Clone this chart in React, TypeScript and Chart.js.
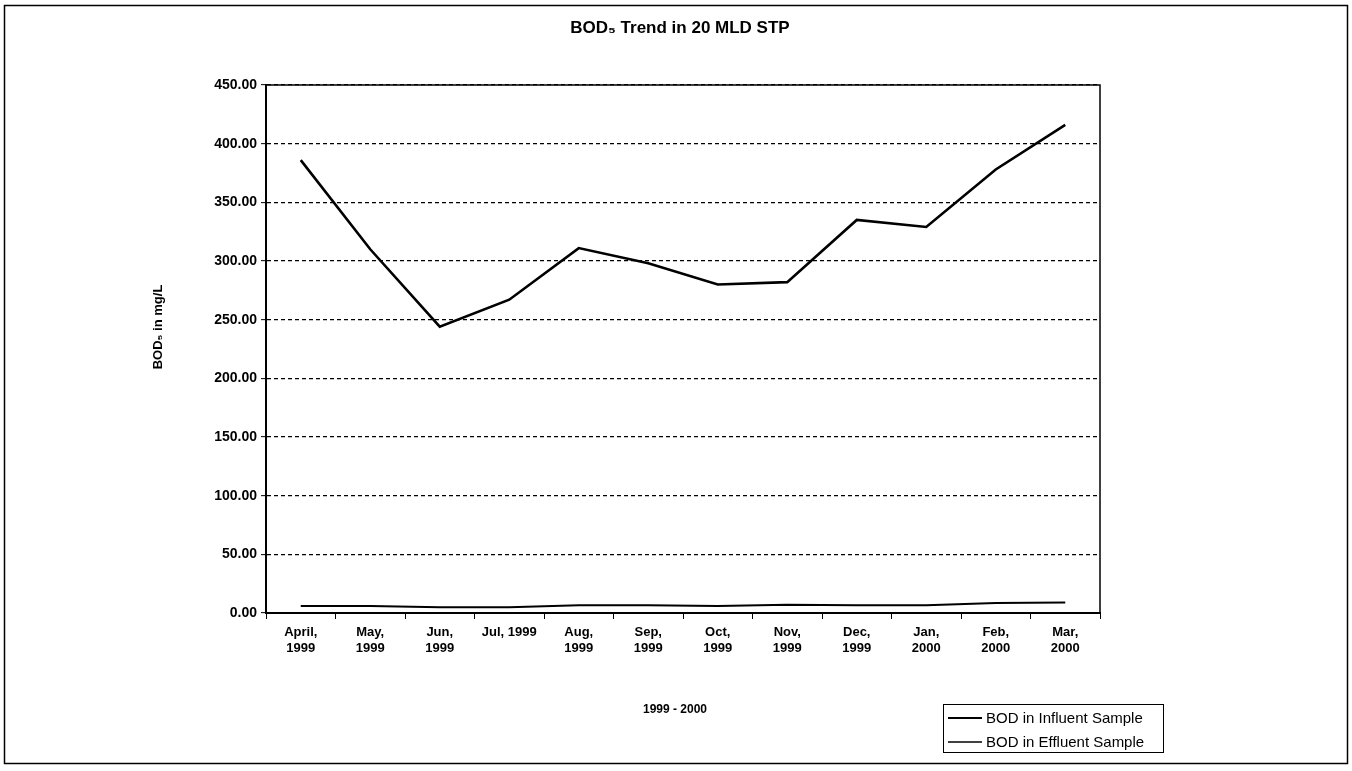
import React, { useEffect, useRef } from "react";
import { Chart, registerables } from "chart.js";

Chart.register(...registerables);

const categories: (string | string[])[] = [
  ["April,", "1999"],
  ["May,", "1999"],
  ["Jun,", "1999"],
  "Jul, 1999",
  ["Aug,", "1999"],
  ["Sep,", "1999"],
  ["Oct,", "1999"],
  ["Nov,", "1999"],
  ["Dec,", "1999"],
  ["Jan,", "2000"],
  ["Feb,", "2000"],
  ["Mar,", "2000"],
];
const influent = [386, 310, 244, 267, 311, 298, 280, 282, 335, 329, 378, 416];
const effluent = [6, 6, 5, 5, 6.5, 6.5, 6, 7, 6.5, 6.5, 8.5, 9];
const seriesNames = ["BOD in Influent Sample", "BOD in Effluent Sample"];
const titleText = "BOD\u2085 Trend in 20 MLD STP";
const yTitleText = "BOD\u2085 in mg/L";
const xTitleText = "1999 - 2000";

const FONT = '"Liberation Sans", Arial, sans-serif';
const W = 1352;
const H = 771;

const decorPlugin = {
  id: "decor",
  afterDraw(chart: any) {
    const ctx = chart.ctx as CanvasRenderingContext2D;
    const ca = chart.chartArea;
    ctx.save();
    // outer border
    ctx.strokeStyle = "#000";
    ctx.lineWidth = 1.5;
    ctx.strokeRect(4.5, 5.5, 1343, 758);
    // plot box
    ctx.lineWidth = 1.5;
    ctx.strokeRect(ca.left, ca.top, ca.right - ca.left, ca.bottom - ca.top);
    // title
    ctx.fillStyle = "#000";
    ctx.textAlign = "center";
    ctx.textBaseline = "middle";
    ctx.font = `bold 17px ${FONT}`;
    ctx.fillText(titleText, 680, 28);
    // x title
    ctx.font = `bold 12px ${FONT}`;
    ctx.fillText(xTitleText, 675, 710);
    // y title
    ctx.save();
    ctx.translate(158, 327);
    ctx.rotate(-Math.PI / 2);
    ctx.font = `bold 13px ${FONT}`;
    ctx.fillText(yTitleText, 0, 0);
    ctx.restore();
    // legend
    const lx = 943, ly = 704, lw = 220, lh = 48;
    ctx.lineWidth = 1;
    ctx.strokeRect(lx + 0.5, ly + 0.5, lw, lh);
    ctx.textAlign = "left";
    ctx.font = `15px ${FONT}`;
    const rows = [718, 742];
    const widths = [2, 1.5];
    rows.forEach((ry, i) => {
      ctx.lineWidth = widths[i];
      ctx.beginPath();
      ctx.moveTo(948, ry);
      ctx.lineTo(982, ry);
      ctx.stroke();
      ctx.fillText(seriesNames[i], 986, ry + 1);
    });
    ctx.restore();
  },
};

export default function App() {
  const ref = useRef<HTMLCanvasElement | null>(null);
  useEffect(() => {
    document.body.style.margin = "0";
    if (!ref.current) return;
    const chart = new Chart(ref.current, {
      type: "line",
      data: {
        labels: categories as any,
        datasets: [
          {
            label: seriesNames[0],
            data: influent,
            borderColor: "#000",
            borderWidth: 2.6,
            pointRadius: 0,
            tension: 0,
          },
          {
            label: seriesNames[1],
            data: effluent,
            borderColor: "#000",
            borderWidth: 2,
            pointRadius: 0,
            tension: 0,
          },
        ],
      },
      options: {
        animation: false,
        responsive: false,
        devicePixelRatio: 1,
        layout: { padding: { left: 0, right: W - 1100, top: 85, bottom: 0 } },
        plugins: {
          legend: { display: false },
          title: { display: false },
          tooltip: { enabled: false },
        },
        scales: {
          x: {
            type: "category",
            offset: true,
            afterFit: (s: any) => {
              s.height = H - 613;
            },
            grid: {
              offset: true,
              drawOnChartArea: false,
              drawTicks: true,
              tickLength: 6,
              tickColor: "#000",
              tickWidth: 1,
            },
            border: { display: true, color: "#000", width: 2 },
            ticks: {
              color: "#000",
              font: { family: FONT, size: 13, weight: "bold" },
              maxRotation: 0,
              autoSkip: false,
              padding: 6,
            },
          },
          y: {
            min: 0,
            max: 450,
            afterFit: (s: any) => {
              s.width = 266;
            },
            grid: {
              color: "#000",
              lineWidth: 1.3,
              drawTicks: true,
              tickLength: 5,
              tickColor: "#000",
              tickWidth: 1,
              tickBorderDash: [],
            },
            border: { display: true, color: "#000", width: 2, dash: [4, 3] },
            ticks: {
              stepSize: 50,
              color: "#000",
              font: { family: FONT, size: 14, weight: "bold" },
              padding: 4,
              callback: (v: any) => Number(v).toFixed(2),
            },
          },
        },
      },
      plugins: [decorPlugin],
    });
    return () => chart.destroy();
  }, []);
  return (
    <div style={{ width: W, height: H, background: "#fff" }}>
      <canvas ref={ref} width={W} height={H} style={{ display: "block" }} />
    </div>
  );
}
